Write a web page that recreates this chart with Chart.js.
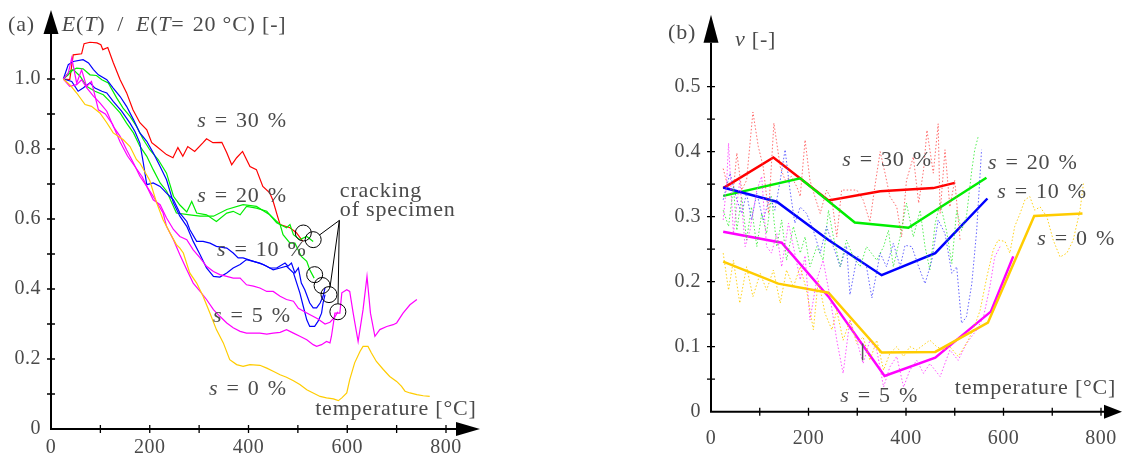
<!DOCTYPE html>
<html>
<head>
<meta charset="utf-8">
<script src="https://cdn.jsdelivr.net/npm/chart.js@4.4.1/dist/chart.umd.min.js"></script>
<style>
  body { margin: 0; background: #fff; }
  #wrap { position: relative; width: 1123px; height: 456px; }
  #chartA { position: absolute; left: 0; top: 0; }
  #chartB { position: absolute; left: 560px; top: 0; }
</style>
</head>
<body>
<div id="wrap">
  <canvas id="chartA" width="560" height="456"></canvas>
  <canvas id="chartB" width="563" height="456"></canvas>
</div>
<script>
// ====== (a) E(T)/E(20 °C) curves ======
const redT = [25,38,45,62,67,79,93,101,105,115,126,140,153,166,180,194,204,214,234,247,257,267,277,291,308,315,328,346,356,366,376,388,403,416,429,443,449,459,464,484,497,510];
const redE = [1.0,0.998,1.069,1.072,1.101,1.105,1.103,1.098,1.084,1.09,1.047,0.998,0.961,0.912,0.875,0.855,0.818,0.807,0.784,0.775,0.804,0.779,0.807,0.793,0.818,0.829,0.818,0.819,0.789,0.755,0.775,0.793,0.750,0.741,0.693,0.675,0.655,0.607,0.584,0.575,0.561,0.536];

const greenAT = [25,38,52,65,79,92,103,116,133,146,160,173,187,200,217,234,248,261,275,285,295,315,335,356,369,383,396,416,437,457,477,484,491,504,518,531];
const greenAE = [1.0,1.022,1.031,1.029,1.012,1.01,0.998,0.989,0.946,0.917,0.893,0.865,0.827,0.798,0.770,0.731,0.665,0.64,0.62,0.65,0.617,0.612,0.593,0.617,0.622,0.612,0.636,0.631,0.622,0.589,0.575,0.584,0.555,0.541,0.550,0.536];
const greenBT = [25,35,45,59,72,89,106,119,140,153,167,180,194,207,221,234,254,281,302,329,356,389,416,443,464,470,484,494,507,518,524,533];
const greenBE = [1.0,1.012,1.027,1.008,0.979,0.965,0.955,0.936,0.903,0.874,0.846,0.808,0.779,0.741,0.703,0.68,0.617,0.612,0.608,0.608,0.627,0.641,0.636,0.612,0.584,0.555,0.531,0.531,0.493,0.479,0.455,0.431];

const blueAT = [25,35,45,65,76,86,96,113,126,140,153,167,180,194,207,221,234,248,261,275,288,302,315,329,342,356,369,383,396,410,423,437,450,464,477,491,504,511,518,524,534,541,548,551,555];
const blueAE = [1.0,1.041,1.05,1.055,1.046,1.027,1.012,0.998,0.974,0.95,0.922,0.884,0.846,0.822,0.789,0.75,0.712,0.646,0.608,0.579,0.536,0.498,0.46,0.436,0.434,0.446,0.46,0.47,0.484,0.479,0.474,0.465,0.455,0.46,0.465,0.446,0.389,0.35,0.312,0.293,0.293,0.308,0.331,0.36,0.384];
const blueBT = [25,42,55,65,79,89,103,113,126,143,160,170,180,187,194,207,221,234,248,261,275,281,295,308,322,335,356,369,379,389,410,430,443,457,474,480,487,494,501,507,514,524,531,538,545,551,555];
const blueBE = [1.0,0.993,0.965,0.974,0.989,0.974,0.965,0.96,0.936,0.908,0.874,0.85,0.817,0.76,0.698,0.703,0.693,0.674,0.655,0.617,0.593,0.57,0.536,0.536,0.531,0.522,0.517,0.503,0.489,0.489,0.479,0.47,0.46,0.46,0.474,0.465,0.474,0.446,0.46,0.417,0.398,0.36,0.346,0.346,0.36,0.379,0.403];

const magentaAT = [25,35,42,52,62,72,82,96,110,125,140,155,170,185,195,207,221,234,248,261,275,288,302,315,329,342,356,369,383,396,410,423,437,450,464,477,491,501,520,540,555,565,575,581];
const magentaAE = [1.0,1.017,1.06,0.988,1.026,0.979,0.993,0.912,0.90,0.87,0.82,0.78,0.75,0.72,0.69,0.655,0.641,0.603,0.57,0.55,0.541,0.512,0.489,0.465,0.45,0.441,0.436,0.431,0.431,0.412,0.408,0.403,0.393,0.393,0.379,0.37,0.365,0.345,0.33,0.315,0.30,0.305,0.32,0.335];
const magentaBT = [25,38,52,62,72,86,99,113,126,140,153,167,180,194,207,227,234,248,261,275,288,302,315,329,342,356,369,383,396,410,423,437,450,464,477,491,504,518,531,538,548,558,565,568,575,585,589,599,605,612,622,632,640,647,656,666,680,693,700,713,727,741];
const magentaBE = [1.0,0.979,0.984,0.998,0.975,0.951,0.932,0.908,0.865,0.836,0.798,0.76,0.722,0.693,0.665,0.617,0.579,0.541,0.498,0.455,0.417,0.393,0.37,0.341,0.322,0.303,0.289,0.279,0.274,0.274,0.274,0.271,0.274,0.276,0.284,0.274,0.265,0.255,0.241,0.236,0.241,0.25,0.246,0.265,0.331,0.331,0.389,0.398,0.393,0.331,0.25,0.341,0.436,0.331,0.265,0.284,0.293,0.298,0.303,0.331,0.355,0.37];

const yellowT = [25,38,52,69,82,99,113,126,146,160,173,180,200,214,227,241,254,261,268,281,295,308,322,335,349,362,376,389,403,423,437,450,464,477,491,504,518,531,545,558,572,582,589,599,605,615,626,632,642,649,659,673,686,700,710,717,727,741,754,767];
const yellowE = [1.0,0.984,0.96,0.927,0.922,0.903,0.875,0.846,0.827,0.807,0.77,0.76,0.71,0.646,0.598,0.56,0.527,0.517,0.503,0.446,0.417,0.379,0.331,0.284,0.246,0.198,0.184,0.179,0.184,0.182,0.174,0.165,0.155,0.148,0.138,0.127,0.112,0.103,0.093,0.089,0.086,0.081,0.089,0.103,0.141,0.189,0.222,0.236,0.236,0.217,0.193,0.17,0.15,0.136,0.122,0.108,0.103,0.098,0.095,0.093];

// cracking of specimen marks
const crackT = [511,531,534,549,563,581];
const crackE = [0.56,0.541,0.441,0.41,0.384,0.335];

// ====== (b) Poisson's ratio: mean lines ======
const nuRedT = [25,128,241,347,456,500];
const nuRed = [0.344,0.391,0.325,0.339,0.344,0.352];
const nuGreenT = [25,183,295,405,565];
const nuGreen = [0.332,0.359,0.291,0.283,0.36];
const nuBlueT = [25,135,241,350,460,567];
const nuBlue = [0.345,0.323,0.264,0.21,0.244,0.328];
const nuMagentaT = [25,145,241,356,460,574,620];
const nuMagenta = [0.277,0.26,0.177,0.055,0.083,0.154,0.239];
const nuYellowT = [25,138,241,350,460,568,663,762];
const nuYellow = [0.231,0.197,0.183,0.091,0.092,0.137,0.301,0.305];

// ====== (b) raw measurements (dotted) ======
const rawRedT = [25,35,46,53,63,73,86,97,107,118,129,142,152,165,176,183,193,203,213,224,237,248,258,268,285,299,312,326,336,347,357,367,381,391,401,415,426,436,443,456,466,470,480,490,500,511];
const rawRed = [0.374,0.345,0.341,0.398,0.341,0.356,0.461,0.408,0.377,0.305,0.444,0.377,0.356,0.362,0.346,0.331,0.418,0.356,0.331,0.305,0.341,0.326,0.269,0.341,0.341,0.341,0.326,0.292,0.346,0.4,0.367,0.331,0.315,0.269,0.356,0.392,0.321,0.372,0.433,0.367,0.443,0.305,0.403,0.315,0.356,0.264];
const rawGreenT = [25,36,46,53,63,73,83,94,104,114,124,135,145,155,169,183,193,203,217,230,241,251,265,278,292,306,319,329,340,354,364,374,388,401,415,429,439,449,460,470,483,494,504,514,524,535,541,548];
const rawGreen = [0.31,0.285,0.346,0.279,0.331,0.264,0.315,0.254,0.305,0.274,0.331,0.254,0.295,0.233,0.285,0.244,0.269,0.223,0.254,0.233,0.31,0.269,0.223,0.264,0.238,0.223,0.254,0.244,0.233,0.254,0.279,0.223,0.269,0.321,0.269,0.31,0.254,0.218,0.29,0.321,0.279,0.228,0.31,0.279,0.3,0.372,0.403,0.423];
const rawBlueT = [25,39,53,63,73,83,94,107,121,131,142,152,162,172,183,196,210,224,237,251,265,278,285,300,319,330,347,360,374,388,398,412,426,439,453,466,480,494,504,514,524,535,545,555];
const rawBlue = [0.326,0.367,0.326,0.305,0.336,0.295,0.336,0.295,0.331,0.31,0.356,0.403,0.341,0.29,0.315,0.305,0.279,0.244,0.285,0.254,0.223,0.255,0.18,0.24,0.223,0.175,0.244,0.223,0.259,0.223,0.256,0.254,0.223,0.197,0.233,0.295,0.274,0.213,0.223,0.136,0.146,0.197,0.279,0.403];
const rawMagentaT = [25,32,36,46,59,70,80,94,104,114,124,135,145,159,169,183,193,203,217,230,244,258,271,285,299,312,326,340,354,367,381,395,408,422,436,449,470,490,507,524,545,559,572,582,593];
const rawMagenta = [0.295,0.35,0.413,0.274,0.356,0.254,0.279,0.341,0.362,0.254,0.244,0.274,0.223,0.29,0.254,0.203,0.24,0.141,0.203,0.233,0.177,0.11,0.059,0.141,0.11,0.074,0.11,0.095,0.038,0.069,0.085,0.038,0.064,0.079,0.059,0.074,0.054,0.095,0.079,0.105,0.126,0.146,0.192,0.238,0.254];
const rawYellowT = [25,36,46,59,73,86,101,114,128,142,155,169,183,196,210,220,234,248,258,271,285,299,312,326,340,354,367,381,395,408,422,449,463,477,490,507,524,538,552,566,579,589,603,613,623,634,644,654,664,675,689,702,716,730,743,757,764];
const rawYellow = [0.244,0.187,0.233,0.167,0.223,0.177,0.213,0.187,0.218,0.167,0.218,0.192,0.223,0.187,0.126,0.203,0.151,0.126,0.156,0.11,0.141,0.105,0.115,0.079,0.11,0.064,0.09,0.1,0.085,0.1,0.095,0.11,0.1,0.095,0.1,0.085,0.105,0.126,0.156,0.208,0.249,0.264,0.262,0.244,0.285,0.305,0.326,0.331,0.31,0.315,0.3,0.264,0.238,0.244,0.264,0.31,0.351];

// ====== Helpers ======
const SERIF = '"Liberation Serif", "DejaVu Serif", serif';
const TXT = '#4a4a4a';
const SP = '\u2004'; // slightly wider space, closer to TeX math spacing
const EN = '\u2002';

function pts(t, v) { return t.map((x, i) => ({ x: x, y: v[i] })); }

function line(t, v, color, width, dash) {
  return {
    data: pts(t, v), borderColor: color, borderWidth: width, borderDash: dash || [],
    pointRadius: 0, fill: false, tension: 0, clip: false
  };
}

// draws mixed upright / italic text, left aligned, vertically centred
function richText(ctx, x, y, parts, size) {
  let cx = x;
  ctx.textAlign = 'left';
  ctx.textBaseline = 'middle';
  ctx.letterSpacing = '0.8px';
  parts.forEach(p => {
    ctx.font = (p[1] ? 'italic ' : '') + size + 'px ' + SERIF;
    ctx.fillText(p[0], cx, y);
    cx += ctx.measureText(p[0]).width;
  });
  ctx.letterSpacing = '0px';
}

function sLabel(pct) {
  return [['s', 1], [SP + '=' + SP + pct + SP + '%', 0]];
}

function arrowUp(ctx, x, tip, base, half) {
  ctx.beginPath(); ctx.moveTo(x, tip); ctx.lineTo(x - half, base); ctx.lineTo(x + half, base); ctx.closePath(); ctx.fill();
}
function arrowRight(ctx, y, tip, base, half) {
  ctx.beginPath(); ctx.moveTo(tip, y); ctx.lineTo(base, y - half); ctx.lineTo(base, y + half); ctx.closePath(); ctx.fill();
}

// ====== Axes plugin ======
function axesPlugin(o) {
  return {
    id: 'axes' + o.id,
    afterDatasetsDraw(chart) {
      const { ctx, chartArea, scales: { x, y } } = chart;
      const x0 = x.getPixelForValue(0), y0 = y.getPixelForValue(0);
      ctx.save();
      ctx.strokeStyle = '#000'; ctx.fillStyle = '#000'; ctx.lineWidth = 2;
      ctx.beginPath();
      ctx.moveTo(x0, y0 + 1); ctx.lineTo(x0, chartArea.top + o.yArrowBase);
      ctx.moveTo(x0 - 1, y0); ctx.lineTo(chartArea.right + o.xArrowBase, y0);
      ctx.stroke();
      arrowUp(ctx, x0, chartArea.top + o.yArrowTip, chartArea.top + o.yArrowBase, 7.5);
      arrowRight(ctx, y0, chartArea.right + o.xArrowTip, chartArea.right + o.xArrowBase, 7);
      ctx.lineWidth = 1.3;
      ctx.beginPath();
      for (let v = o.yStep; v <= o.yTop + 1e-9; v += o.yStep) {
        const py = y.getPixelForValue(v);
        ctx.moveTo(x0 - 4, py); ctx.lineTo(x0 + 4, py);
      }
      for (let t = 100; t <= 800; t += 100) {
        const px = x.getPixelForValue(t);
        ctx.moveTo(px, y0 - 4); ctx.lineTo(px, y0 + 4);
      }
      ctx.stroke();
      ctx.fillStyle = TXT;
      ctx.font = '20px ' + SERIF;
      ctx.letterSpacing = '0.5px';
      ctx.textAlign = 'right'; ctx.textBaseline = 'middle';
      o.yLabels.forEach(v => {
        ctx.fillText(v === 0 ? '0' : v.toFixed(1), x0 - 10, y.getPixelForValue(v));
      });
      ctx.textAlign = 'center';
      [0, 200, 400, 600, 800].forEach(t => {
        ctx.fillText(String(t), x.getPixelForValue(t), y0 + o.xLabelOff);
      });
      ctx.restore();
    }
  };
}

// ====== Text / annotation plugin ======
function notesPlugin(id, notes, extra) {
  return {
    id: 'notes' + id,
    afterDraw(chart) {
      const { ctx, scales: { x, y } } = chart;
      ctx.save();
      ctx.fillStyle = TXT;
      notes.forEach(n => richText(ctx, x.getPixelForValue(n.t), y.getPixelForValue(n.v), n.parts, n.size || 22));
      if (extra) extra(ctx, x, y);
      ctx.restore();
    }
  };
}

const notesA = [
  { t: -87, v: 1.154, parts: [['(a)', 0]] },
  { t: 22, v: 1.154, parts: [['E', 1], ['(', 0], ['T', 1], [')' + EN + '/' + EN, 0], ['E', 1], ['(', 0], ['T', 1], ['=' + SP + '20 °C) [-]', 0]] },
  { t: 296, v: 0.88, parts: sLabel(30) },
  { t: 296, v: 0.666, parts: sLabel(20) },
  { t: 336, v: 0.511, parts: sLabel(10) },
  { t: 328, v: 0.323, parts: sLabel(5) },
  { t: 320, v: 0.114, parts: sLabel(0) },
  { t: 535, v: 0.057, parts: [['temperature [°C]', 0]] },
  { t: 585, v: 0.68, parts: [['cracking', 0]] },
  { t: 585, v: 0.626, parts: [['of specimen', 0]] }
];

const notesB = [
  { t: -88, v: 0.583, parts: [['(b)', 0]] },
  { t: 49, v: 0.572, parts: [['ν', 1], [' [-]', 0]] },
  { t: 269, v: 0.387, parts: sLabel(30) },
  { t: 568, v: 0.383, parts: sLabel(20) },
  { t: 587, v: 0.338, parts: sLabel(10) },
  { t: 669, v: 0.266, parts: sLabel(0) },
  { t: 265, v: 0.024, parts: sLabel(5) },
  { t: 500, v: 0.036, parts: [['temperature [°C]', 0]] }
];

function drawCracks(ctx, x, y) {
  const r = 8;
  ctx.strokeStyle = '#000'; ctx.lineWidth = 1;
  crackT.forEach((t, i) => {
    ctx.beginPath(); ctx.arc(x.getPixelForValue(t), y.getPixelForValue(crackE[i]), r, 0, Math.PI * 2); ctx.stroke();
  });
  const ax = x.getPixelForValue(584), ay = y.getPixelForValue(0.596);
  [1, 4, 5].forEach(i => {
    const cx = x.getPixelForValue(crackT[i]), cy = y.getPixelForValue(crackE[i]);
    const d = Math.hypot(cx - ax, cy - ay);
    ctx.beginPath(); ctx.moveTo(ax, ay);
    ctx.lineTo(cx - (cx - ax) * r / d, cy - (cy - ay) * r / d); ctx.stroke();
  });
}

function drawMark(ctx, x, y) {
  ctx.strokeStyle = '#555'; ctx.lineWidth = 1.5;
  ctx.beginPath();
  ctx.moveTo(x.getPixelForValue(311), y.getPixelForValue(0.105));
  ctx.lineTo(x.getPixelForValue(311), y.getPixelForValue(0.079));
  ctx.stroke();
}

const common = {
  responsive: false, animation: false, devicePixelRatio: 1,
  plugins: { legend: { display: false }, tooltip: { enabled: false } }
};

// ====== Chart (a) ======
new Chart(document.getElementById('chartA'), {
  type: 'line',
  data: {
    datasets: [
      line(yellowT, yellowE, '#ffcc00', 1.2),
      line(magentaAT, magentaAE, '#ff00ff', 1.2),
      line(magentaBT, magentaBE, '#ff00ff', 1.2),
      line(blueAT, blueAE, '#0000ff', 1.2),
      line(blueBT, blueBE, '#0000ff', 1.2),
      line(greenAT, greenAE, '#00ee00', 1.2),
      line(greenBT, greenBE, '#00ee00', 1.2),
      line(redT, redE, '#ff0000', 1.2)
    ]
  },
  options: Object.assign({}, common, {
    layout: { padding: { left: 51, right: 114, top: 9, bottom: 27 } },
    scales: {
      x: { type: 'linear', min: 0, max: 800, display: false },
      y: { type: 'linear', min: 0, max: 1.2, display: false }
    }
  }),
  plugins: [
    axesPlugin({ id: 'A', yStep: 0.1, yTop: 1.0, yLabels: [0, 0.2, 0.4, 0.6, 0.8, 1.0], xLabelOff: 19,
                 yArrowTip: 1, yArrowBase: 25, xArrowBase: 10, xArrowTip: 34 }),
    notesPlugin('A', notesA, drawCracks)
  ]
});

// ====== Chart (b) ======
const dot = [1.5, 2];
new Chart(document.getElementById('chartB'), {
  type: 'line',
  data: {
    datasets: [
      line(rawYellowT, rawYellow, 'rgba(255,205,0,0.9)', 1, dot),
      line(rawMagentaT, rawMagenta, 'rgba(255,40,255,0.8)', 1, dot),
      line(rawBlueT, rawBlue, 'rgba(60,60,255,0.8)', 1, dot),
      line(rawGreenT, rawGreen, 'rgba(40,235,40,0.8)', 1, dot),
      line(rawRedT, rawRed, 'rgba(255,60,60,0.75)', 1, dot),
      line(nuYellowT, nuYellow, '#ffcc00', 2.5),
      line(nuMagentaT, nuMagenta, '#ff00ff', 2.5),
      line(nuBlueT, nuBlue, '#0000ff', 2.5),
      line(nuGreenT, nuGreen, '#00ee00', 2.5),
      line(nuRedT, nuRed, '#ff0000', 2.5)
    ]
  },
  options: Object.assign({}, common, {
    layout: { padding: { left: 151, right: 22, top: 21.7, bottom: 44.3 } },
    scales: {
      x: { type: 'linear', min: 0, max: 800, display: false },
      y: { type: 'linear', min: 0, max: 0.6, display: false }
    }
  }),
  plugins: [
    axesPlugin({ id: 'B', yStep: 0.05, yTop: 0.5, yLabels: [0, 0.1, 0.2, 0.3, 0.4, 0.5], xLabelOff: 27,
                 yArrowTip: -7, yArrowBase: 21, xArrowBase: 3, xArrowTip: 21 }),
    notesPlugin('B', notesB, drawMark)
  ]
});
</script>
</body>
</html>
